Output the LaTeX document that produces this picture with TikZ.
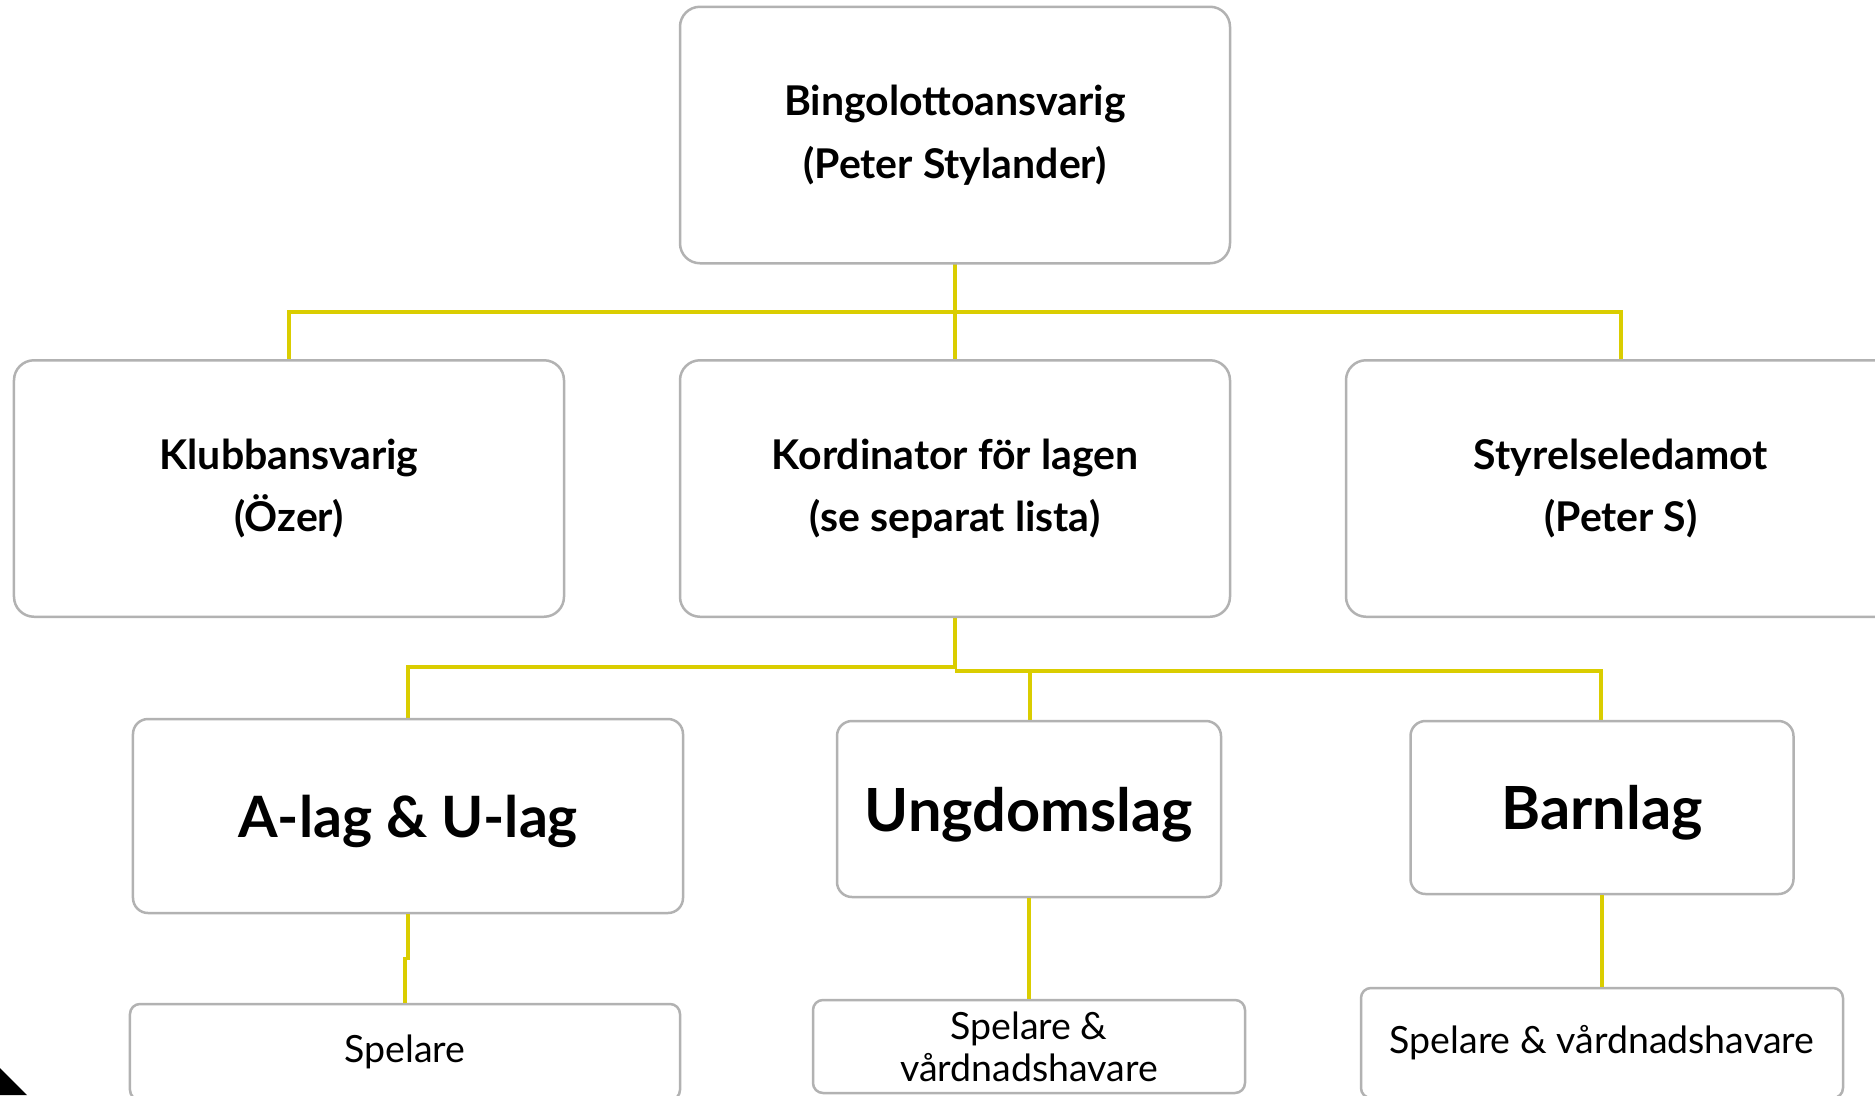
\documentclass[tikz,border=0pt]{standalone}
\usepackage{fontspec}
\setmainfont{Lato}
\usepackage{tikz}
\usetikzlibrary{calc}
\definecolor{boxgray}{RGB}{178,178,178}
\definecolor{linkyellow}{RGB}{218,205,0}
\tikzset{>=latex}
\tikzset{
  rolebox/.style={draw=boxgray,line width=1pt,rounded corners=8pt,fill=white,align=center,
    font=\bfseries\fontsize{16.4}{25}\selectfont,minimum width=220pt,minimum height=102.6pt},
  teambox/.style={draw=boxgray,line width=1pt,rounded corners=6pt,fill=white,align=center,
    font=\bfseries\fontsize{23.8}{28}\selectfont,text depth=0pt},
  memberbox/.style={draw=boxgray,line width=1pt,rounded corners=4pt,fill=white,align=center,
    font=\fontsize{15}{16.8}\selectfont},
  link/.style={draw=linkyellow,line width=1.3pt}
}

\begin{document}
\begin{tikzpicture}[x=0.4pt,y=-0.4pt]
			\useasboundingbox (0,0) rectangle (1875,1095);
			\clip (0,0) rectangle (1875,1095);
			\coordinate (J1) at (955,312);
			\coordinate (J2) at (955,667);
			\coordinate (J3) at (955,671);
			\draw[link] (955,263) -- (J1);
			\draw[link] (289,360) |- (J1) -| (1621,360);
			\draw[link] (955,360) -- (J1);
			\draw[link] (955,617) -- (J2) -| (408,720);
			\draw[link] (J3) -| (1030,721);
			\draw[link] (J3) -| (1601,721);
			\node[rolebox] (ansvarig) at (955,135) {Bingolottoansvarig\\(Peter Stylander)};
			\node[rolebox] (klubb) at (289,488.5) {Klubbansvarig\\(Özer)};
			\node[rolebox] (kordinator) at (955,488.5) {Kordinator för lagen\\(se separat lista)};
			\node[rolebox] (styrelse) at (1621,488.5) {Styrelseledamot\\(Peter S)};
			\node[teambox,font=\bfseries\fontsize{22.8}{28}\selectfont,minimum width=220pt,minimum height=77.6pt] (alag) at (408,816) {A-lag \& U-lag};
			\node[teambox,minimum width=153.6pt,minimum height=70.4pt] (ungdom) at (1029,809) {Ungdomslag};
			\node[teambox,minimum width=153.2pt,minimum height=69.2pt] (barn) at (1602,807.5) {Barnlag};
			\node[memberbox,minimum width=220pt,minimum height=38.4pt] (spelare) at (405,1052) {Spelare};
			\node[memberbox,minimum width=172.8pt,minimum height=37.2pt] (ungdomspel) at (1029,1046.5) {Spelare \&\\vårdnadshavare};
			\node[memberbox,minimum width=192.8pt,minimum height=44pt] (barnspel) at (1602,1043) {Spelare \& vårdnadshavare};
			\draw[link] (alag.south) -- ++(0,44) -| (spelare.north);
			\draw[link] (ungdom.south) -- (ungdomspel.north);
			\draw[link] (barn.south) -- (barnspel.north);
			\fill[black] (0,1068) -- (27,1095) -- (0,1095) -- cycle;
		\end{tikzpicture}
\end{document}
